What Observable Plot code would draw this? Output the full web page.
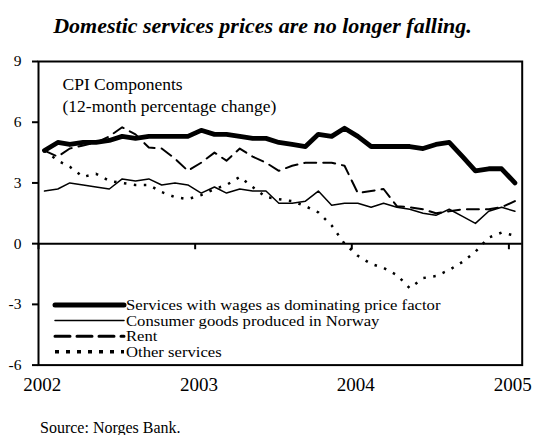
<!DOCTYPE html>
<html>
<head>
<meta charset="utf-8">
<script src="https://cdn.jsdelivr.net/npm/d3@7"></script>
<script src="https://cdn.jsdelivr.net/npm/@observablehq/plot@0.6"></script>
<style>
  html, body { margin: 0; padding: 0; background: #fff; }
  body { width: 534px; height: 435px; overflow: hidden; position: relative; font-family: "Liberation Serif", "Times New Roman", serif; color: #000; }
  #title { position: absolute; left: 0; top: 15px; width: 525px; text-align: center; font-size: 22px; line-height: 1; font-weight: bold; font-style: italic; }
  #chart { position: absolute; left: 0; top: 45px; }
  #source { position: absolute; left: 40px; top: 420px; font-size: 16px; line-height: 1; }
</style>
</head>
<body>
<div id="title">Domestic services prices are no longer falling.</div>
<div id="chart"></div>
<div id="source">Source: Norges Bank.</div>
<script>
// Monthly observations, January 2002 – January 2005 (12-month % change)
const firstMonth = "2002-01-15";
const services = [4.6, 5.0, 4.9, 5.0, 5.0, 5.1, 5.3, 5.2, 5.3, 5.3, 5.3, 5.3,
                  5.6, 5.4, 5.4, 5.3, 5.2, 5.2, 5.0, 4.9, 4.8, 5.4, 5.3, 5.7,
                  5.3, 4.8, 4.8, 4.8, 4.8, 4.7, 4.9, 5.0, 4.3, 3.6, 3.7, 3.7,
                  3.0];
const consumer = [2.6, 2.7, 3.0, 2.9, 2.8, 2.7, 3.2, 3.1, 3.2, 2.9, 3.0, 2.9,
                  2.5, 2.8, 2.5, 2.7, 2.6, 2.6, 2.0, 2.0, 2.1, 2.6, 1.9, 2.0,
                  2.0, 1.8, 2.0, 1.8, 1.7, 1.5, 1.4, 1.7, 1.35, 1.0, 1.6, 1.8,
                  1.6];
const rent = [4.6, 4.3, 4.7, 4.85, 5.0, 5.3, 5.75, 5.4, 4.75, 4.7, 4.2, 3.6,
              4.0, 4.5, 4.1, 4.7, 4.3, 4.0, 3.6, 3.85, 4.0, 4.0, 4.0, 3.85,
              2.5, 2.6, 2.7, 1.85, 1.8, 1.7, 1.5, 1.6, 1.7, 1.7, 1.7, 1.8,
              2.1];
const other = [4.6, 4.1, 3.8, 3.3, 3.45, 3.1, 3.0, 2.9, 2.9, 2.55, 2.3, 2.2,
               2.4, 2.7, 2.9, 3.3, 2.8, 2.3, 2.2, 2.1, 1.85, 1.55, 0.9, 0.0,
               -0.6, -1.0, -1.2, -1.55, -2.2, -1.7, -1.6, -1.3, -0.9, -0.4, 0.3, 0.55,
               0.4];
const yTicks = [-6, -3, 0, 3, 6, 9];
const yearLabels = ["2002", "2003", "2004", "2005"];
const seriesNames = ["Services with wages as dominating price factor",
                     "Consumer goods produced in Norway",
                     "Rent",
                     "Other services"];
const boxText = ["CPI Components", "(12-month percentage change)"];

const start = new Date(firstMonth);
const dates = services.map((_, i) => d3.utcMonth.offset(start, i));
const yearStarts = yearLabels.map(y => new Date(`${y}-01-01`));
const labelDates = yearLabels.map(y => new Date(`${y}-01-10`));

const styles = [
  {strokeWidth: 4.8},
  {strokeWidth: 1.5},
  {strokeWidth: 2, strokeDasharray: "12,7"},
  {strokeWidth: 2.5, strokeDasharray: "2.5,7.5", strokeLinecap: "butt"}
];
const legendStyles = [
  {strokeWidth: 5},
  {strokeWidth: 1.5},
  {strokeWidth: 3, strokeDasharray: "15,7"},
  {strokeWidth: 3.5, strokeDasharray: "4,7", strokeLinecap: "butt"}
];

function legendMark(index, scales, values, dims) {
  const g = d3.create("svg:g");
  const x0 = dims.marginLeft + 17, x1 = dims.marginLeft + 86;
  const yb = dims.height - dims.marginBottom;
  seriesNames.forEach((name, i) => {
    const y = yb - 59.6 + i * 15.6;
    const s = legendStyles[i];
    g.append("line")
      .attr("x1", x0).attr("x2", x1).attr("y1", y).attr("y2", y)
      .attr("stroke", "black")
      .attr("stroke-width", s.strokeWidth)
      .attr("stroke-dasharray", s.strokeDasharray || null)
      .attr("stroke-linecap", s.strokeLinecap || "round");
    g.append("text")
      .attr("transform", `translate(${x1 + 2},${y}) scale(1.19,1.05)`)
      .attr("dy", "0.34em")
      .attr("text-anchor", "start")
      .attr("font-size", 14)
      .attr("fill", "black")
      .text(name);
  });
  return g.node();
}

const seriesData = [services, consumer, rent, other];
const lineMarks = [3, 2, 1, 0].map(k =>
  Plot.lineY(seriesData[k], {x: (d, i) => dates[i], y: d => d, stroke: "black", ...styles[k]})
);

const chart = Plot.plot({
  width: 534,
  height: 360,
  marginTop: 16,
  marginBottom: 40.4,
  marginLeft: 38,
  marginRight: 12.3,
  style: {fontFamily: '"Liberation Serif", "Times New Roman", serif', fontSize: "16px", color: "black", background: "white", overflow: "visible"},
  x: {type: "utc", domain: [new Date("2002-01-01"), new Date("2005-02-01")]},
  y: {domain: [-6, 9]},
  marks: [
    Plot.axisY({ticks: yTicks, tickSize: 6, tickPadding: 11, tickFormat: d => String(d), fontSize: 15.5, strokeWidth: 2}),
    Plot.axisX({ticks: labelDates, tickSize: 0, tickPadding: 12, tickFormat: d => yearLabels[yearLabels.indexOf(String(d.getUTCFullYear()))], fontSize: 19}),
    Plot.ruleY([0], {stroke: "black", strokeWidth: 2}),
    Plot.ruleX(yearStarts, {x: d => d, y1: 0, y2: -0.3, stroke: "black", strokeWidth: 2}),
    ...lineMarks,
    Plot.text([boxText.join("\n")], {frameAnchor: "top-left", dx: 24, dy: 13, lineAnchor: "top", lineHeight: 1.25, fontSize: 17.5, textAnchor: "start", fill: "black"}),
    legendMark,
    Plot.frame({stroke: "black", strokeWidth: 2})
  ]
});
document.getElementById("chart").appendChild(chart);
</script>
</body>
</html>
